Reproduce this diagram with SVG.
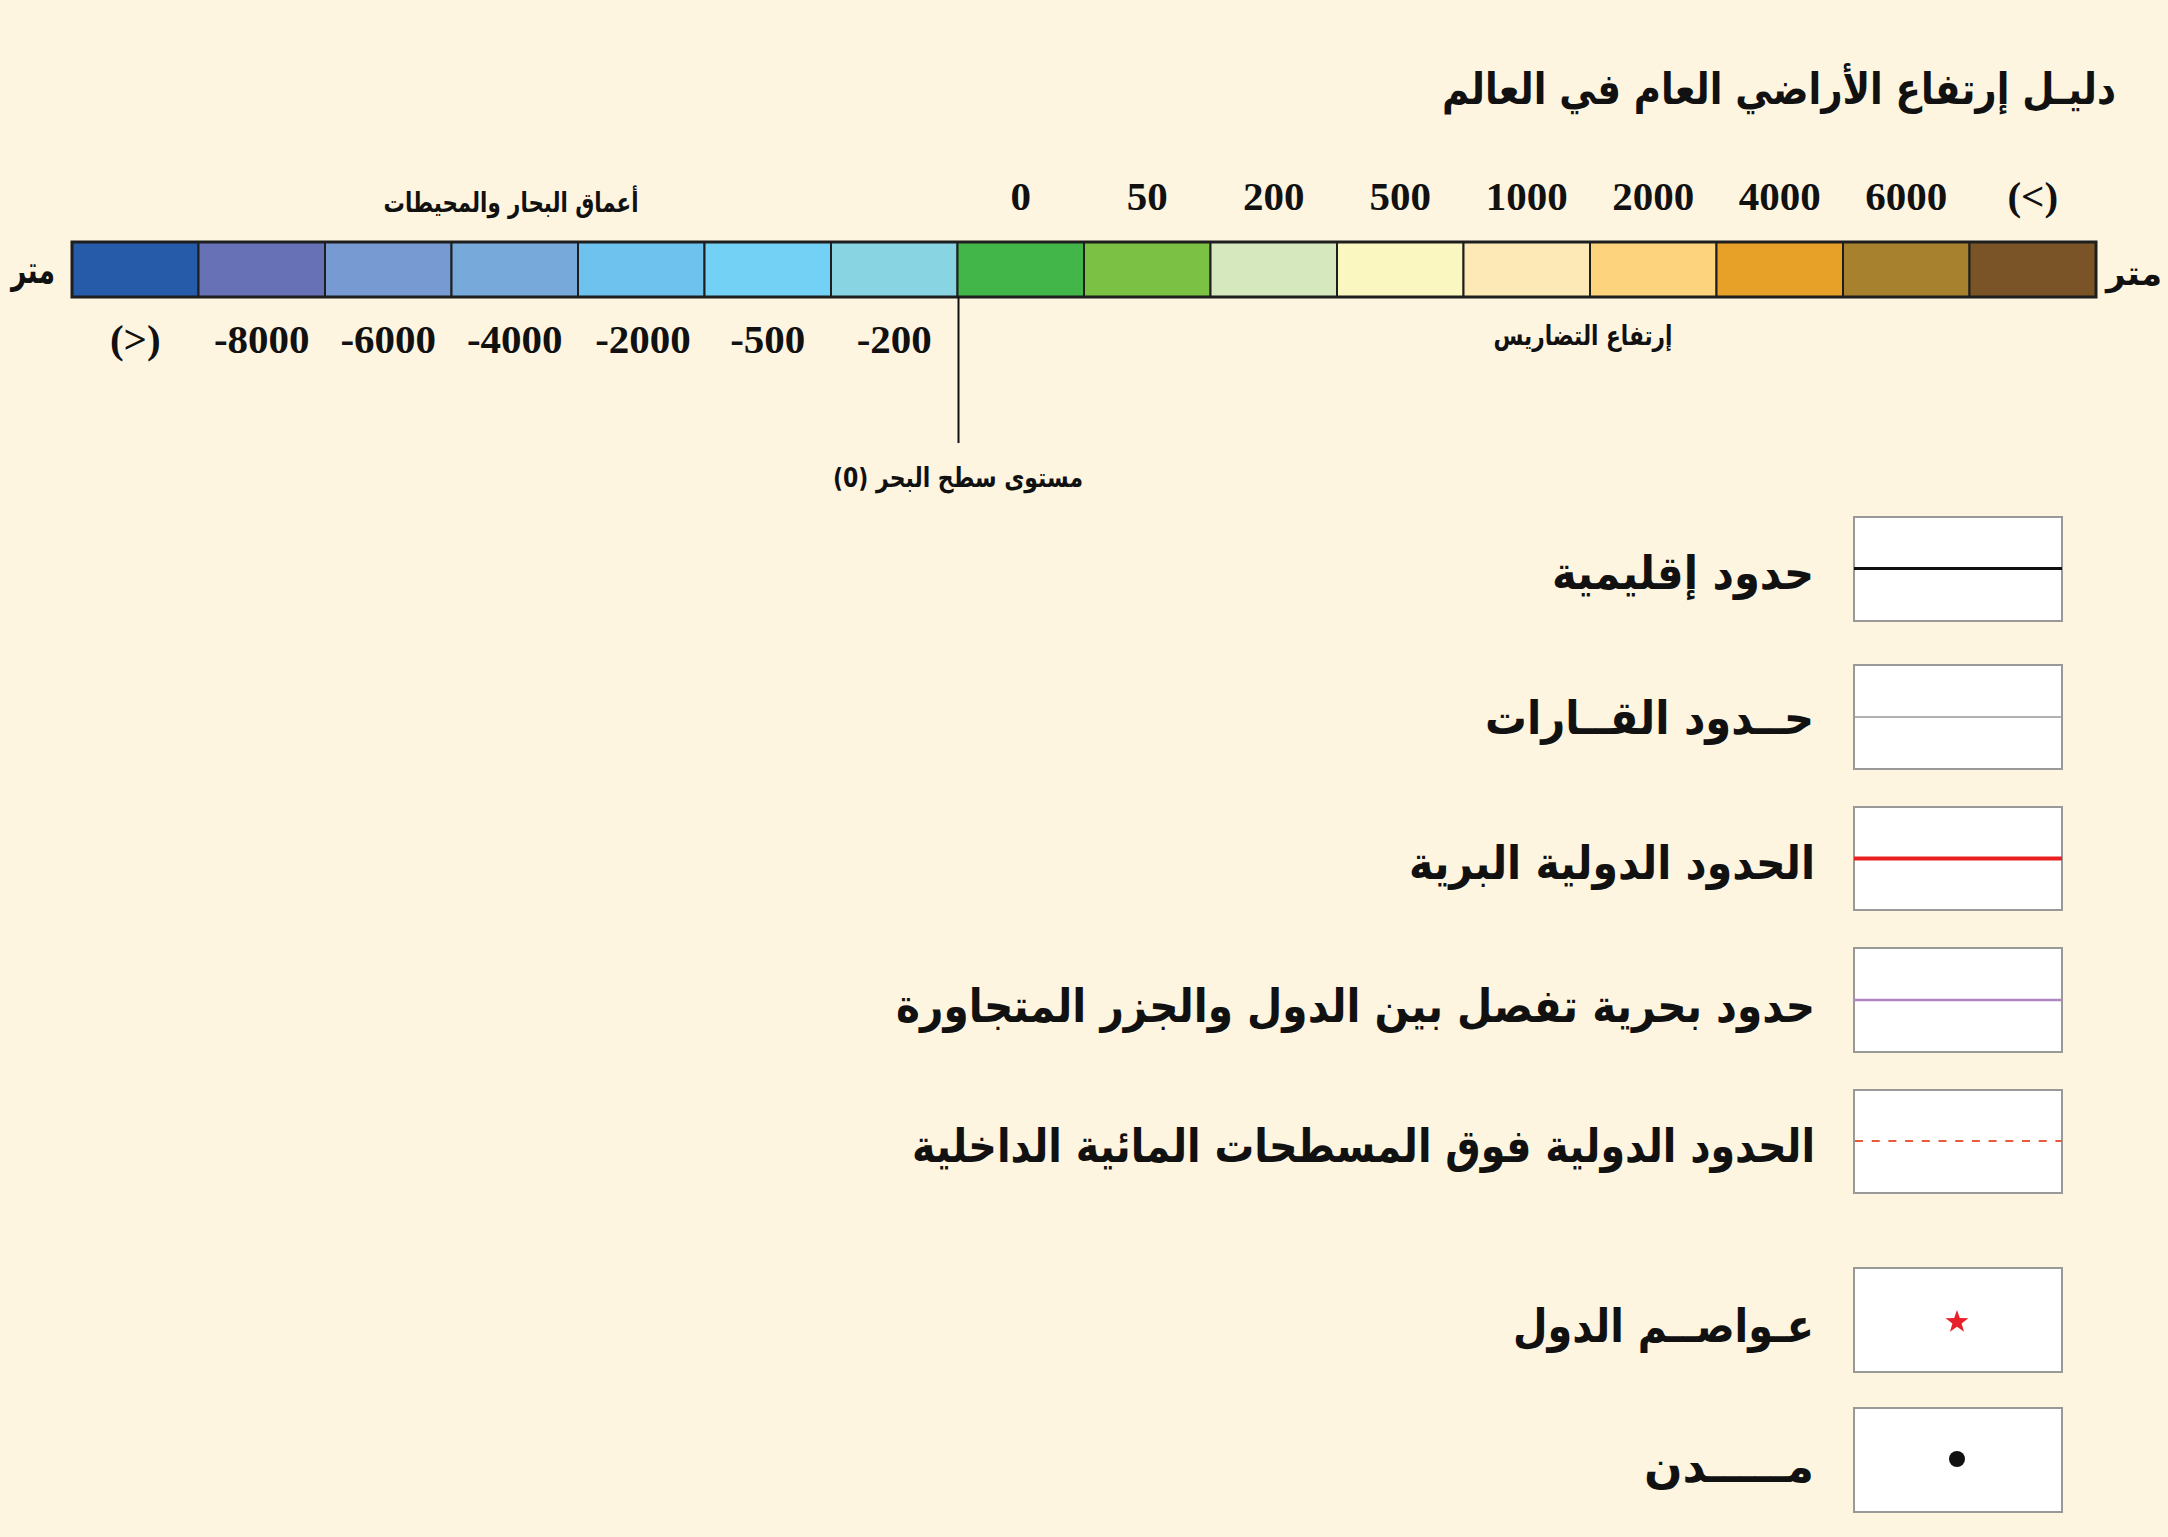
<svg xmlns="http://www.w3.org/2000/svg" width="2168" height="1537" viewBox="0 0 2168 1537">
<style>
.ar{font-family:"DejaVu Sans","Noto Sans",sans-serif;font-weight:bold;fill:#111}
.cond{font-family:"DejaVu Sans Condensed","DejaVu Sans",sans-serif}
.e{text-anchor:end}
.m{text-anchor:middle}
.lbl{font-size:46px}
.num{font-family:"Liberation Serif","Times New Roman",serif;font-weight:bold;font-size:41px;fill:#111;text-anchor:middle}
.cell{stroke:#1e1e1e;stroke-width:2}
.box{fill:#fff;stroke:#999;stroke-width:2}
</style>
<rect x="0" y="0" width="2168" height="1537" fill="#FEF5E0"/>
<g id="title">
<text class="ar cond e" x="2116" y="104" font-size="43" textLength="674" lengthAdjust="spacingAndGlyphs">دليـل إرتفاع الأراضي العام في العالم</text>
</g>
<g id="scale-bar">
<rect class="cell" x="72" y="242" width="126.5" height="55" fill="#255BA8"/>
<rect class="cell" x="198.5" y="242" width="126.5" height="55" fill="#6671B6"/>
<rect class="cell" x="325" y="242" width="126.5" height="55" fill="#769AD1"/>
<rect class="cell" x="451.5" y="242" width="126.5" height="55" fill="#77A9DB"/>
<rect class="cell" x="578" y="242" width="126.5" height="55" fill="#6DC3EE"/>
<rect class="cell" x="704.5" y="242" width="126.5" height="55" fill="#72D1F4"/>
<rect class="cell" x="831" y="242" width="126.5" height="55" fill="#89D4E3"/>
<rect class="cell" x="957.5" y="242" width="126.5" height="55" fill="#43B649"/>
<rect class="cell" x="1084" y="242" width="126.5" height="55" fill="#7BC143"/>
<rect class="cell" x="1210.5" y="242" width="126.5" height="55" fill="#D6E8BD"/>
<rect class="cell" x="1337" y="242" width="126.5" height="55" fill="#FBF7C1"/>
<rect class="cell" x="1463.5" y="242" width="126.5" height="55" fill="#FDE9B6"/>
<rect class="cell" x="1590" y="242" width="126.5" height="55" fill="#FDD37D"/>
<rect class="cell" x="1716.5" y="242" width="126.5" height="55" fill="#E7A028"/>
<rect class="cell" x="1843" y="242" width="126.5" height="55" fill="#A8812F"/>
<rect class="cell" x="1969.5" y="242" width="126.5" height="55" fill="#7A5426"/>
<rect x="72" y="242" width="2024" height="55" fill="none" stroke="#1e1e1e" stroke-width="3"/>
</g>
<g id="scale-labels">
<text class="ar m" x="33" y="283" font-size="38" textLength="44" lengthAdjust="spacingAndGlyphs">متر</text>
<text class="ar e" x="2162" y="285" font-size="34">متر</text>
<text class="ar m" x="511" y="212" font-size="27" textLength="255" lengthAdjust="spacingAndGlyphs">أعماق البحار والمحيطات</text>
<text class="ar m" x="1583" y="345" font-size="27" textLength="179" lengthAdjust="spacingAndGlyphs">إرتفاع التضاريس</text>
<text class="num" x="1020.75" y="210">0</text>
<text class="num" x="1147.25" y="210">50</text>
<text class="num" x="1273.75" y="210">200</text>
<text class="num" x="1400.25" y="210">500</text>
<text class="num" x="1526.75" y="210">1000</text>
<text class="num" x="1653.25" y="210">2000</text>
<text class="num" x="1779.75" y="210">4000</text>
<text class="num" x="1906.25" y="210">6000</text>
<text class="num" x="2032.75" y="210">(&lt;)</text>
<text class="num" x="135.25" y="353">(&gt;)</text>
<text class="num" x="261.75" y="353">-8000</text>
<text class="num" x="388.25" y="353">-6000</text>
<text class="num" x="514.75" y="353">-4000</text>
<text class="num" x="643" y="353">-2000</text>
<text class="num" x="767.75" y="353">-500</text>
<text class="num" x="894.25" y="353">-200</text>
</g>
<g id="connectors">
<line x1="958.5" y1="297" x2="958.5" y2="443" stroke="#111" stroke-width="2"/>
</g>
<g id="sea-level">
<text class="ar m" x="958" y="487" font-size="27" direction="rtl" style="direction:rtl" textLength="250" lengthAdjust="spacingAndGlyphs">مستوى سطح البحر (0)</text>
</g>
<g id="legend-regional">
<rect class="box" x="1854" y="517" width="208" height="104"/>
<line x1="1854" y1="568.5" x2="2062" y2="568.5" stroke="#111" stroke-width="3"/>
<text class="ar e lbl" x="1814" y="589" textLength="262" lengthAdjust="spacingAndGlyphs">حدود إقليمية</text>
</g>
<g id="legend-continents">
<rect class="box" x="1854" y="665" width="208" height="104"/>
<line x1="1854" y1="717" x2="2062" y2="717" stroke="#999" stroke-width="1.5"/>
<text class="ar e lbl" x="1814" y="734" textLength="329" lengthAdjust="spacingAndGlyphs">حــدود القــارات</text>
</g>
<g id="legend-land">
<rect class="box" x="1854" y="807" width="208" height="103"/>
<line x1="1854" y1="858.5" x2="2062" y2="858.5" stroke="#E8201F" stroke-width="4"/>
<text class="ar e lbl" x="1815" y="879" textLength="406" lengthAdjust="spacingAndGlyphs">الحدود الدولية البرية</text>
</g>
<g id="legend-maritime">
<rect class="box" x="1854" y="948" width="208" height="104"/>
<line x1="1854" y1="1000" x2="2062" y2="1000" stroke="#B085C2" stroke-width="2.5"/>
<text class="ar e lbl" x="1815" y="1022" textLength="919" lengthAdjust="spacingAndGlyphs">حدود بحرية تفصل بين الدول والجزر المتجاورة</text>
</g>
<g id="legend-inland-water">
<rect class="box" x="1854" y="1090" width="208" height="103"/>
<line x1="1855" y1="1141" x2="2062" y2="1141" stroke="#E85A3A" stroke-width="2" stroke-dasharray="8 8.7"/>
<text class="ar e lbl" x="1815" y="1162" textLength="903" lengthAdjust="spacingAndGlyphs">الحدود الدولية فوق المسطحات المائية الداخلية</text>
</g>
<g id="legend-capitals">
<rect class="box" x="1854" y="1268" width="208" height="104"/>
<polygon points="1957,1310 1959.82,1318.12 1968.41,1318.29 1961.57,1323.48 1964.05,1331.71 1957,1326.8 1949.95,1331.71 1952.43,1323.48 1945.59,1318.29 1954.18,1318.12" fill="#E8202A"/>
<text class="ar e lbl" x="1814" y="1342" textLength="301" lengthAdjust="spacingAndGlyphs">عـواصــم الدول</text>
</g>
<g id="legend-cities">
<rect class="box" x="1854" y="1408" width="208" height="104"/>
<circle cx="1957" cy="1459" r="8" fill="#111"/>
<text class="ar e lbl" x="1814" y="1482" textLength="170" lengthAdjust="spacingAndGlyphs">مـــــدن</text>
</g>
</svg>
